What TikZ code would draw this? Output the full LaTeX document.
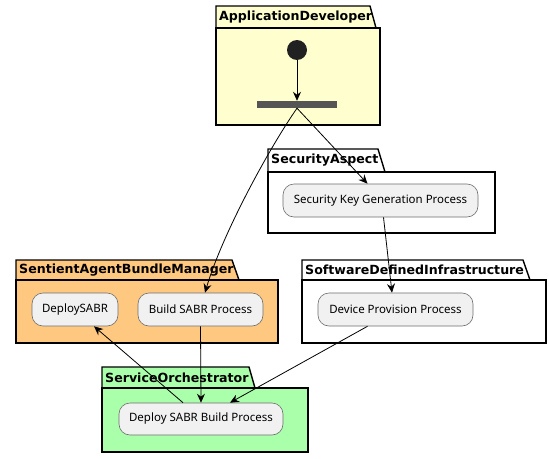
\documentclass[tikz,border=0pt]{standalone}
\usepackage{fontspec}
\setmainfont{Noto Sans}
\newfontfamily\pkgfont{DejaVu Sans}
\usetikzlibrary{arrows.meta}
\definecolor{appyellow}{HTML}{FEFECE}
\definecolor{sabrorange}{HTML}{FFC880}
\definecolor{orchgreen}{HTML}{AAFFAA}
\definecolor{actfill}{HTML}{F1F1F1}
\definecolor{actline}{HTML}{6E6E6E}
\definecolor{forkgray}{HTML}{555555}
\tikzset{
  pkgline/.style={draw=black, line width=1.4pt},
  pkgtitle/.style={anchor=west, inner sep=0pt, font=\pkgfont\bfseries\fontsize{12.6}{14}\selectfont},
  activity/.style={draw=actline, fill=actfill, line width=0.6pt, rounded corners=11pt,
    inner sep=0pt, font=\fontsize{11.5}{13}\selectfont},
  flow/.style={-{Stealth[length=9pt,width=8pt,inset=3pt]}, line width=0.8pt},
}
\begin{document}
\begin{tikzpicture}[x=1pt,y=-1pt]
  \useasboundingbox (0,0) rectangle (549,458);

  % Paket ApplicationDeveloper
  \filldraw[pkgline, fill=appyellow] (216,28) -- (216,6) -- (370,6) -- (376,28) -- cycle;
  \filldraw[pkgline, fill=appyellow] (216,28) rectangle (380,125);
  \node[pkgtitle] at (219,17) {ApplicationDeveloper};

  % Paket SecurityAspect
  \filldraw[pkgline, fill=white] (268,172) -- (268,149) -- (378,149) -- (385,172) -- cycle;
  \filldraw[pkgline, fill=white] (268,172) rectangle (495,233);
  \node[pkgtitle] at (271,160) {SecurityAspect};

  % Paket SentientAgentBundleManager
  \filldraw[pkgline, fill=sabrorange] (16,280) -- (16,260) -- (232,260) -- (239,280) -- cycle;
  \filldraw[pkgline, fill=sabrorange] (16,280) rectangle (278,343);
  \node[pkgtitle] at (19,270) {SentientAgentBundleManager};

  % Paket SoftwareDefinedInfrastructure
  \filldraw[pkgline, fill=white] (302,280) -- (302,260) -- (523,260) -- (530,280) -- cycle;
  \filldraw[pkgline, fill=white] (302,280) rectangle (546,343);
  \node[pkgtitle] at (305,270) {SoftwareDefinedInfrastructure};

  % Paket ServiceOrchestrator
  \filldraw[pkgline, fill=orchgreen] (102,388) -- (102,367) -- (249,367) -- (255,388) -- cycle;
  \filldraw[pkgline, fill=orchgreen] (102,388) rectangle (308,452);
  \node[pkgtitle] at (105,378) {ServiceOrchestrator};

  % Start und Gabelung
  \node[circle, fill=black!87, minimum size=20pt, inner sep=0pt] (start) at (297,50) {};
  \node[fill=forkgray, minimum width=80pt, minimum height=7pt, inner sep=0pt] (fork) at (297,104.5) {};

  % Aktivitaeten
  \node[activity, minimum width=195pt, minimum height=33pt] (keygen) at (380.5,200.5) {Security Key Generation Process};
  \node[activity, minimum width=86pt, minimum height=33pt] (deploy) at (75,309.5) {DeploySABR};
  \node[activity, minimum width=125pt, minimum height=33pt] (build) at (200.5,309.5) {Build SABR Process};
  \node[activity, minimum width=155pt, minimum height=33pt] (provision) at (395.5,309.5) {Device Provision Process};
  \node[activity, minimum width=164pt, minimum height=32pt] (deploybuild) at (201,419) {Deploy SABR Build Process};

  % Verbindungen
  \draw[flow] (start) -- (fork.north);
  \draw[flow] (fork.south) -- ([xshift=-13pt]keygen.north);
  \draw[flow] (fork.south) .. controls (268,150) and (222,235) .. ([xshift=4.5pt]build.north);
  \draw[flow] ([xshift=3pt]keygen.south) -- ([xshift=-3.5pt]provision.north);
  \draw[flow] (build.south) -- (deploybuild.north);
  \draw[flow] ([xshift=-28pt]provision.south) -- ([xshift=29pt]deploybuild.north);
  \draw[flow] ([xshift=-18pt]deploybuild.north) -- ([xshift=19pt]deploy.south);
\end{tikzpicture}
\end{document}
